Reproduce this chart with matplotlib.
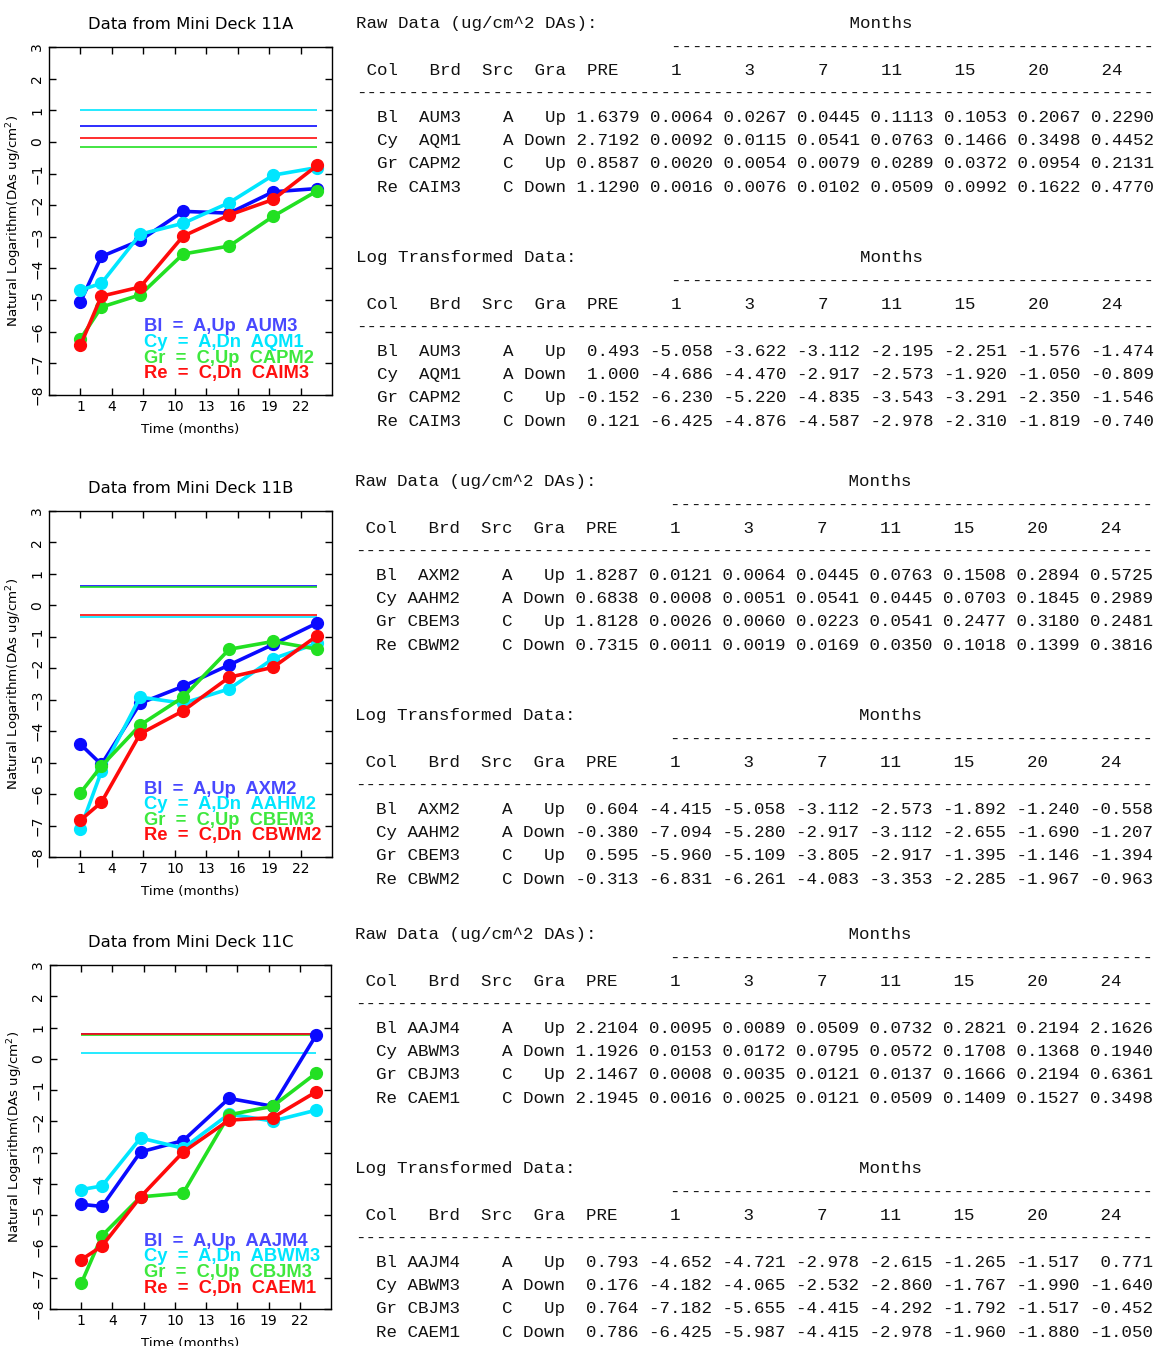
import matplotlib
matplotlib.use('Agg')
import matplotlib.pyplot as plt

# ---- data ----
decks = ['11A', '11B', '11C']
codes = ['Bl', 'Cy', 'Gr', 'Re']
src = ['A', 'A', 'C', 'C']
gra = ['Up', 'Down', 'Up', 'Down']
gra_short = ['Up', 'Dn', 'Up', 'Dn']
table_months = [1, 3, 7, 11, 15, 20, 24]
plot_months = [1, 3, 6.7, 10.8, 15.2, 19.4, 23.6]

boards_a = ['AUM3', 'AQM1', 'CAPM2', 'CAIM3']
boards_b = ['AXM2', 'AAHM2', 'CBEM3', 'CBWM2']
boards_c = ['AAJM4', 'ABWM3', 'CBJM3', 'CAEM1']

raw_pre_a = [1.6379, 2.7192, 0.8587, 1.1290]
raw_a = [[0.0064, 0.0267, 0.0445, 0.1113, 0.1053, 0.2067, 0.2290],
         [0.0092, 0.0115, 0.0541, 0.0763, 0.1466, 0.3498, 0.4452],
         [0.0020, 0.0054, 0.0079, 0.0289, 0.0372, 0.0954, 0.2131],
         [0.0016, 0.0076, 0.0102, 0.0509, 0.0992, 0.1622, 0.4770]]
log_pre_a = [0.493, 1.000, -0.152, 0.121]
log_a = [[-5.058, -3.622, -3.112, -2.195, -2.251, -1.576, -1.474],
         [-4.686, -4.470, -2.917, -2.573, -1.920, -1.050, -0.809],
         [-6.230, -5.220, -4.835, -3.543, -3.291, -2.350, -1.546],
         [-6.425, -4.876, -4.587, -2.978, -2.310, -1.819, -0.740]]

raw_pre_b = [1.8287, 0.6838, 1.8128, 0.7315]
raw_b = [[0.0121, 0.0064, 0.0445, 0.0763, 0.1508, 0.2894, 0.5725],
         [0.0008, 0.0051, 0.0541, 0.0445, 0.0703, 0.1845, 0.2989],
         [0.0026, 0.0060, 0.0223, 0.0541, 0.2477, 0.3180, 0.2481],
         [0.0011, 0.0019, 0.0169, 0.0350, 0.1018, 0.1399, 0.3816]]
log_pre_b = [0.604, -0.380, 0.595, -0.313]
log_b = [[-4.415, -5.058, -3.112, -2.573, -1.892, -1.240, -0.558],
         [-7.094, -5.280, -2.917, -3.112, -2.655, -1.690, -1.207],
         [-5.960, -5.109, -3.805, -2.917, -1.395, -1.146, -1.394],
         [-6.831, -6.261, -4.083, -3.353, -2.285, -1.967, -0.963]]

raw_pre_c = [2.2104, 1.1926, 2.1467, 2.1945]
raw_c = [[0.0095, 0.0089, 0.0509, 0.0732, 0.2821, 0.2194, 2.1626],
         [0.0153, 0.0172, 0.0795, 0.0572, 0.1708, 0.1368, 0.1940],
         [0.0008, 0.0035, 0.0121, 0.0137, 0.1666, 0.2194, 0.6361],
         [0.0016, 0.0025, 0.0121, 0.0509, 0.1409, 0.1527, 0.3498]]
log_pre_c = [0.793, 0.176, 0.764, 0.786]
log_c = [[-4.652, -4.721, -2.978, -2.615, -1.265, -1.517, 0.771],
         [-4.182, -4.065, -2.532, -2.860, -1.767, -1.990, -1.640],
         [-7.182, -5.655, -4.415, -4.292, -1.792, -1.517, -0.452],
         [-6.425, -5.987, -4.415, -2.978, -1.960, -1.880, -1.050]]

panels = [
    (boards_a, raw_pre_a, raw_a, log_pre_a, log_a),
    (boards_b, raw_pre_b, raw_b, log_pre_b, log_b),
    (boards_c, raw_pre_c, raw_c, log_pre_c, log_c),
]

line_colors = ['#0a0aff', '#00e6ff', '#22e022', '#ff0a0a']
legend_colors = ['#4848ff', '#00e6ff', '#3ee83e', '#ff1010']

W, H = 1155, 1346
fig = plt.figure(figsize=(W / 100, H / 100), dpi=100)

# axes boxes in pixels: left, top, right, bottom
ax_boxes = [(49, 47, 332, 395), (49, 511, 332, 857), (50, 965, 331, 1309)]
table_x0 = [356.5, 355, 355]
table_y0 = [22, 480, 933]
line_dy = 23.4

mono = ['Liberation Mono', 'DejaVu Sans Mono']

for i, (boards, raw_pre, raw, log_pre, logv) in enumerate(panels):
    l, t, r, b = ax_boxes[i]
    ax = fig.add_axes([l / W, 1 - b / H, (r - l) / W, (b - t) / H])

    for k in range(4):
        ax.hlines(log_pre[k], plot_months[0], plot_months[-1],
                  color=line_colors[k], lw=1.2, zorder=2)
    for k in range(4):
        ax.plot(plot_months, logv[k], '-o', color=line_colors[k], lw=2.6,
                ms=8.5, zorder=3)

    ax.set_xlim(-2, 25)
    ax.set_ylim(-8, 3)
    ax.set_xticks(range(1, 23, 3))
    ax.set_yticks(range(-8, 4))
    ax.tick_params(direction='in', top=True, right=True, length=5,
                   labelsize=10, width=1)
    plt.setp(ax.get_yticklabels(), rotation=90, va='center')
    for s in ax.spines.values():
        s.set_linewidth(1)

    ax.set_title('Data from Mini Deck ' + decks[i], fontsize=11.8, pad=13)
    ax.set_xlabel('Time (months)', fontsize=9.6)
    ax.xaxis.set_label_coords(0.5, -0.08)
    ax.set_ylabel('Natural Logarithm(DAs ug/cm$^2$)', fontsize=9.6)
    ax.yaxis.set_label_coords(-0.088, 0.5)

    leg_y = [0.196, 0.152, 0.105, 0.061]
    for k in range(4):
        txt = f'{codes[k]}  =  {src[k]},{gra_short[k]}  {boards[k]}'
        ax.text(0.335, leg_y[k], txt, transform=ax.transAxes, va='center',
                ha='left', color=legend_colors[k], fontsize=13.2,
                fontweight='bold', family='Liberation Sans')

    # text tables
    months_hdr = ' Col   Brd  Src  Gra  PRE' + '%6d' % table_months[0] + \
        ''.join('%7d' % m for m in table_months[1:])
    lines = []
    lines.append('Raw Data (ug/cm^2 DAs):'.ljust(47) + 'Months')
    lines.append(' ' * 30 + '-' * 46)
    lines.append(months_hdr)
    lines.append('-' * 76)
    for k in range(4):
        row = '  %-2s%6s%5s%5s %6.4f' % (codes[k], boards[k], src[k], gra[k], raw_pre[k])
        row += ''.join(' %6.4f' % v for v in raw[k])
        lines.append(row)
    lines.append('')
    lines.append('')
    lines.append('Log Transformed Data:'.ljust(48) + 'Months')
    lines.append(' ' * 30 + '-' * 46)
    lines.append(months_hdr)
    lines.append('-' * 76)
    for k in range(4):
        row = '  %-2s%6s%5s%5s' % (codes[k], boards[k], src[k], gra[k])
        row += '%7.3f' % log_pre[k]
        row += ''.join('%7.3f' % v for v in logv[k])
        lines.append(row)

    for j, line in enumerate(lines):
        if not line:
            continue
        yc = table_y0[i] + j * line_dy
        fig.text(table_x0[i] / W, 1 - (yc + 6) / H, line, family=mono,
                 fontsize=12.6, va='baseline', ha='left', color='#111111')

fig.savefig('out.png', dpi=100)
